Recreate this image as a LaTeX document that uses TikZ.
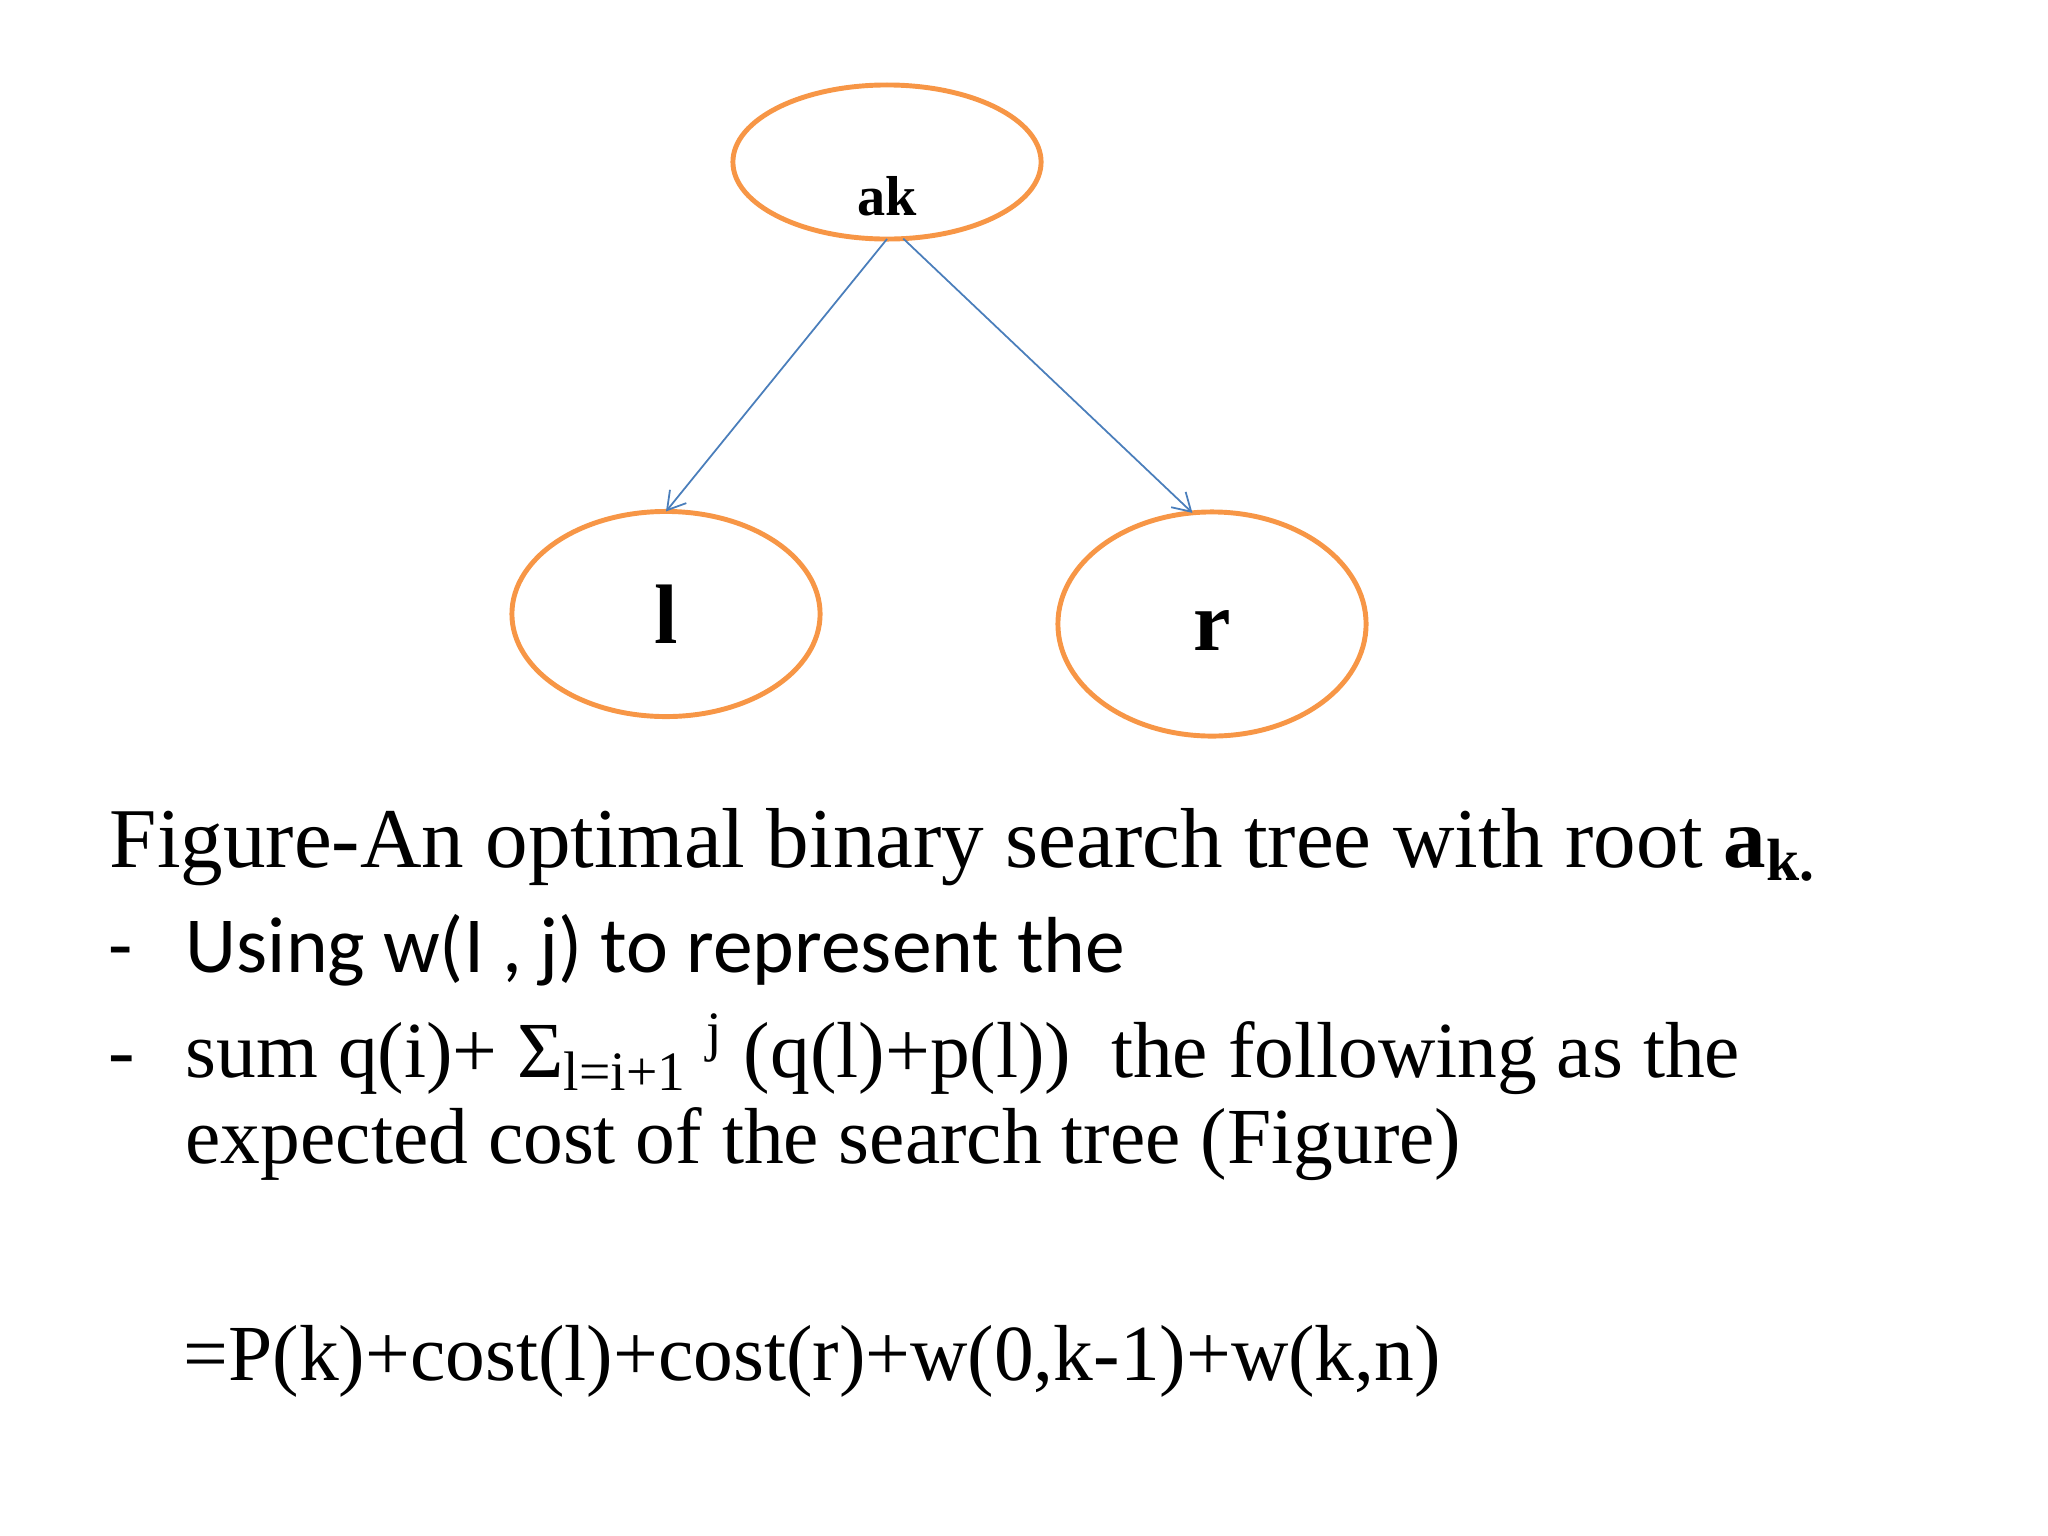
\documentclass[tikz,border=0pt]{standalone}
\usepackage{fontspec}
\setmainfont{Liberation Serif}
\newfontfamily\calibri{Carlito}
\usetikzlibrary{shapes.geometric, arrows.meta, positioning}
\definecolor{ovalorange}{HTML}{F79646}
\definecolor{edgeblue}{HTML}{4A7EBB}

\begin{document}
\begin{tikzpicture}[
        x=0.01cm, y=-0.01cm, >={Straight Barb[length=5pt,width=6pt]},
        oval/.style={draw=ovalorange, line width=1.4pt, ellipse, minimum width=3.08cm, inner sep=0pt, outer sep=0pt, font=\bfseries\fontsize{24}{28}\selectfont},
        link/.style={->, draw=edgeblue, line width=0.5pt},
        txt/.style={anchor=base west, inner sep=0pt, font=\fontsize{22.6}{27}\selectfont},
        captxt/.style={txt, font=\fontsize{24.2}{29}\selectfont},
        sanstxt/.style={txt, font=\calibri\fontsize{22.6}{27}\selectfont}
    ]
    \useasboundingbox (0,0) rectangle (2048,1536);
    % tree with root ak
    \node[oval, minimum height=1.54cm, label={[font=\bfseries\fontsize{16}{19}\selectfont, yshift=-0.34cm]center:ak}] (ak) at (887,162) {};
    \node[oval, minimum height=2.05cm] (l) at (666,614) {l};
    \node[oval, minimum height=2.24cm, text height=15pt] (r) at (1212,624) {r};

    \draw[link] (ak.south) -- (l.north);
    \draw[link] (ak.-78) -- (r.100);

    % caption and cost formula
    \node[captxt] (caption) at (109,867) {Figure-An optimal binary search tree with root \textbf{a}\textsubscript{\textbf{k.}}};
    \node[sanstxt] (using) at (108,972) {\makebox[0.77cm][l]{-}Using w(I , j) to represent the};
    \node[txt] (sumline) at (108,1077) {\makebox[0.77cm][l]{-}sum q(i)+ Σ\textsubscript{l=i+1} \textsuperscript{j} (q(l)+p(l))\ \ the following as the};
    \node[txt] (expected) at (185,1163) {expected cost of the search tree (Figure)};
    \node[txt] (formula) at (183,1380) {=P(k)+cost(l)+cost(r)+w(0,k-1)+w(k,n)};
\end{tikzpicture}
\end{document}
